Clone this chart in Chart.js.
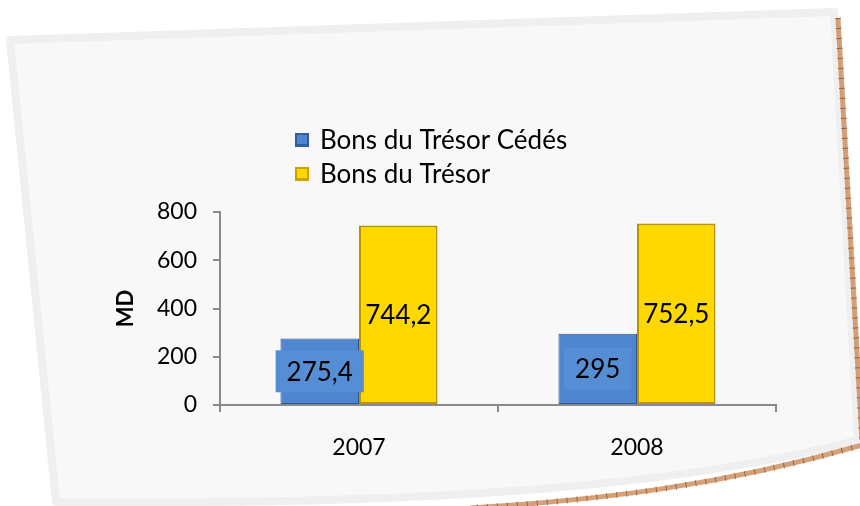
<!DOCTYPE html>
<html>
<head>
<meta charset="utf-8">
<script src="https://cdn.jsdelivr.net/npm/chart.js@4"></script>
<style>
  html, body { margin: 0; padding: 0; background: #fff; }
  #wrap { width: 860px; height: 506px; }
</style>
</head>
<body>
<div id="wrap"><canvas id="c" width="860" height="506"></canvas></div>
<script>
const years = ['2007', '2008'];
const bonsCedes = [275.4, 295];
const bonsTresor = [744.2, 752.5];
const seriesNames = ['Bons du Trésor Cédés', 'Bons du Trésor'];
const yTicks = [0, 200, 400, 600, 800];

const FONT = 'Lato, "Liberation Sans", sans-serif';

// tilted paper card behind the chart
const cardPlugin = {
  id: 'card',
  beforeDraw(chart) {
    const ctx = chart.ctx;
    ctx.save();
    ctx.beginPath();
    ctx.moveTo(10, 40);
    ctx.lineTo(834, 12);
    ctx.lineTo(858, 440);
    ctx.bezierCurveTo(700, 482, 460, 506, 56, 502);
    ctx.closePath();
    ctx.fillStyle = '#f8f8f8';
    ctx.fill();
    ctx.lineWidth = 8;
    ctx.strokeStyle = '#efefef';
    ctx.lineJoin = 'round';
    ctx.stroke();

    // brownish edge on right and bottom
    ctx.beginPath();
    ctx.moveTo(838, 18);
    ctx.lineTo(862, 440);
    ctx.moveTo(862, 445);
    ctx.bezierCurveTo(720, 486, 600, 500, 470, 508);
    ctx.lineWidth = 5;
    ctx.strokeStyle = 'rgba(196,130,80,0.75)';
    ctx.stroke();
    ctx.setLineDash([1, 9]);
    ctx.lineWidth = 6;
    ctx.strokeStyle = 'rgba(160,80,20,0.8)';
    ctx.stroke();
    ctx.restore();
  }
};

// stacked legend at top
const legendPlugin = {
  id: 'stackLegend',
  afterDraw(chart) {
    const ctx = chart.ctx;
    ctx.save();
    ctx.font = '26px ' + FONT;
    ctx.textBaseline = 'middle';
    chart.data.datasets.forEach((ds, i) => {
      const y = 140 + i * 34;
      ctx.fillStyle = ds.edgeColor;
      ctx.fillRect(295, y - 7, 14, 14);
      ctx.fillStyle = ds.faceColor;
      ctx.fillRect(297, y - 5, 10, 9);
      ctx.fillStyle = '#000';
      ctx.fillText(ds.label, 320, y + 1);
    });
    ctx.restore();
  }
};

// value labels centred in bars
const labelPlugin = {
  id: 'barLabels',
  afterDatasetsDraw(chart) {
    const ctx = chart.ctx;
    ctx.save();
    ctx.font = '26px ' + FONT;
    ctx.textAlign = 'center';
    ctx.textBaseline = 'middle';
    chart.data.datasets.forEach((ds, di) => {
      chart.getDatasetMeta(di).data.forEach((bar, i) => {
        const txt = String(ds.data[i]).replace('.', ',');
        const cy = (bar.y + bar.base) / 2;
        if (di === 0) {
          const w = ctx.measureText(txt).width + 22;
          ctx.fillStyle = '#558ed5';
          ctx.fillRect(bar.x - w / 2, cy - 21, w, 42);
        }
        ctx.fillStyle = '#000';
        ctx.fillText(txt, bar.x, cy + 1);
      });
    });
    ctx.restore();
  }
};

function barFill(ctx, edge, face) {
  const el = ctx.element;
  if (!ctx.chart.chartArea || !el || el.width === undefined) return face;
  const x0 = el.x - el.width / 2;
  const g = ctx.chart.ctx.createLinearGradient(x0, 0, x0 + el.width, 0);
  g.addColorStop(0, edge);
  g.addColorStop(0.08, face);
  g.addColorStop(0.92, face);
  g.addColorStop(1, edge);
  return g;
}

new Chart(document.getElementById('c'), {
  type: 'bar',
  data: {
    labels: years,
    datasets: [
      {
        label: seriesNames[0],
        data: bonsCedes,
        edgeColor: '#2f5f9e',
        faceColor: '#4f86cf',
        backgroundColor: (c) => barFill(c, '#2f5f9e', '#4f86cf'),
        borderColor: '#2a5590',
        borderWidth: 1,
        borderSkipped: false,
        barPercentage: 1,
        categoryPercentage: 0.565
      },
      {
        label: seriesNames[1],
        data: bonsTresor,
        edgeColor: '#c9a200',
        faceColor: '#ffd800',
        backgroundColor: (c) => barFill(c, '#e0b800', '#ffd800'),
        borderColor: '#b89400',
        borderWidth: 2,
        borderSkipped: false,
        barPercentage: 1,
        categoryPercentage: 0.565
      }
    ]
  },
  options: {
    responsive: false,
    animation: false,
    layout: { padding: { left: 113, right: 84, top: 212, bottom: 0 } },
    plugins: {
      legend: { display: false },
      tooltip: { enabled: false }
    },
    scales: {
      x: {
        grid: { display: true, drawOnChartArea: false, tickLength: 7, color: '#8a8a8a', lineWidth: 2, offset: true },
        border: { color: '#8a8a8a', width: 2 },
        ticks: { color: '#000', font: { size: 23, family: FONT }, padding: 22 },
        afterFit(s) { s.height = 101; }
      },
      y: {
        min: 0,
        max: 800,
        afterBuildTicks(s) { s.ticks = yTicks.map(v => ({ value: v })); },
        grid: { display: true, drawOnChartArea: false, tickLength: 7, color: '#8a8a8a', lineWidth: 2 },
        border: { color: '#8a8a8a', width: 2 },
        ticks: { color: '#000', font: { size: 23, family: FONT }, padding: 16 },
        title: { display: true, text: 'MD', color: '#000', font: { size: 22, weight: 'bold', family: FONT }, padding: 0 },
        afterFit(s) { s.width = 107; }
      }
    }
  },
  plugins: [cardPlugin, labelPlugin, legendPlugin]
});
</script>
</body>
</html>
